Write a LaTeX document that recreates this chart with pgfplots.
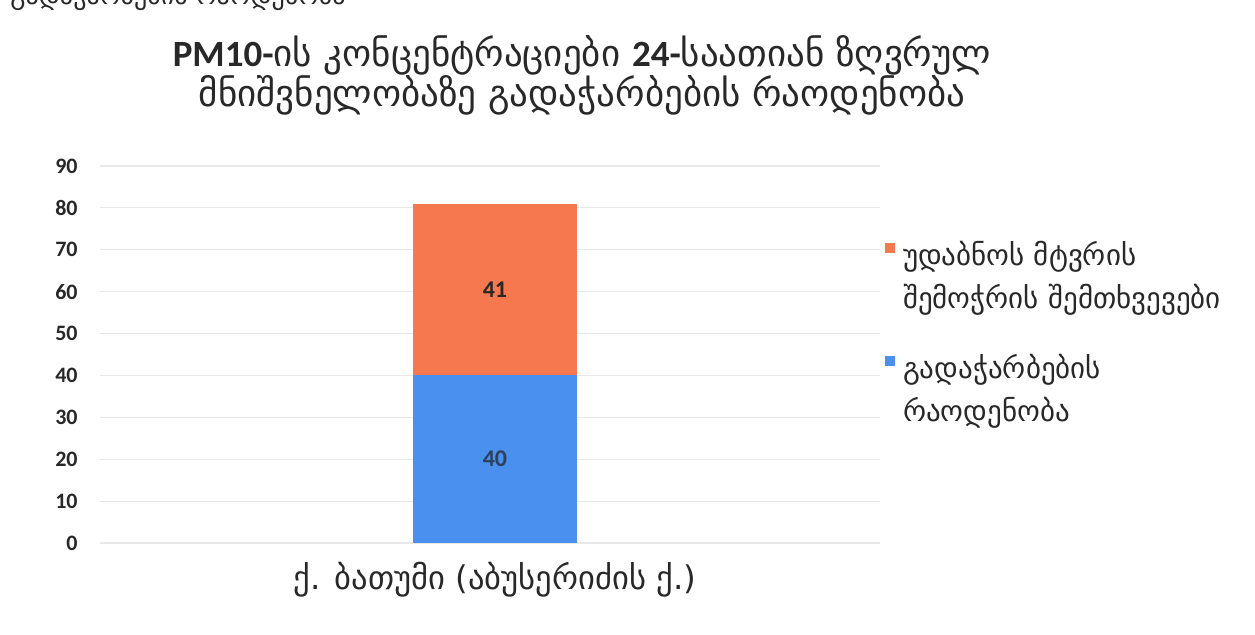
\documentclass[border=0pt]{standalone}
\usepackage{pgfplots}
\pgfplotsset{compat=1.18}
\usepackage{fontspec}
\setmainfont{Carlito}
\newfontfamily\geo{DejaVu Sans}
\definecolor{cOrange}{RGB}{246,120,78}
\definecolor{cBlue}{RGB}{74,144,238}
\definecolor{cText}{RGB}{40,40,40}
\definecolor{cGrid}{RGB}{232,232,232}
\begin{document}
\begin{tikzpicture}
\useasboundingbox (0,0) rectangle (627.5pt,317.5pt);
\fill[white] (0,0) rectangle (627.5pt,317.5pt);
\node[anchor=base west, inner sep=0pt, font=\geo\fontsize{13}{16}\selectfont, text=cText] at (5pt,315pt) {გადაჭარბების რაოდენობა};
\node[align=center, inner sep=0pt, font=\fontsize{18.5}{20}\selectfont, text=cText] at (291pt,280pt)
  {{\bfseries PM10-}{\geo ის კონცენტრაციები }{\bfseries 24-}{\geo საათიან ზღვრულ}\\{\geo მნიშვნელობაზე გადაჭარბების რაოდენობა}};
\begin{axis}[
  at={(50pt,46pt)}, anchor=south west,
  width=390pt, height=188.5pt, scale only axis,
  ymin=0, ymax=90, ytick={0,10,...,90},
  xmin=-1.0128, xmax=0.9872, xtick={0},
  xticklabels={ქ. ბათუმი (აბუსერიძის ქ.)},
  ybar stacked, bar width=82pt,
  axis line style={draw=none},
  tick style={draw=none},
  /pgf/number format/assume math mode=true,
  ymajorgrids, grid style={cGrid, line width=0.6pt},
  yticklabel style={font=\fontsize{11}{13}\selectfont\bfseries, text=cText, anchor=east, inner sep=0pt, xshift=-11pt},
  xticklabel style={font=\geo\fontsize{16.3}{18}\selectfont, text=cText, anchor=center, inner sep=0pt, yshift=-18.5pt},
  legend style={at={(1.006,1)}, anchor=north west, yshift=-35.5pt, draw=none, fill=none, inner sep=0pt,
    font=\geo\fontsize{14.5}{21.5}\selectfont, text=cText, cells={anchor=west}, row sep=39pt},
  legend image code/.code={\fill[#1,draw=none] (0pt,1pt) rectangle (5pt,6pt);},
  reverse legend,
  point meta=explicit,
  nodes near coords,
]
\addplot[fill=cBlue, draw=none, every node near coord/.style={anchor=center, font=\fontsize{12}{14}\selectfont\bfseries, text={rgb,255:red,45;green,65;blue,95}}]
  coordinates {(0,40) [40]};
\addlegendentry{\hspace{2pt}\parbox[t]{170pt}{გადაჭარბების\\რაოდენობა}}
\addplot[fill=cOrange, draw=none, every node near coord/.style={anchor=center, font=\fontsize{12}{14}\selectfont\bfseries, text=cText}]
  coordinates {(0,41) [41]};
\addlegendentry{\hspace{2pt}\parbox[t]{170pt}{უდაბნოს მტვრის\\შემოჭრის შემთხვევები}}
\end{axis}
\end{tikzpicture}
\end{document}
